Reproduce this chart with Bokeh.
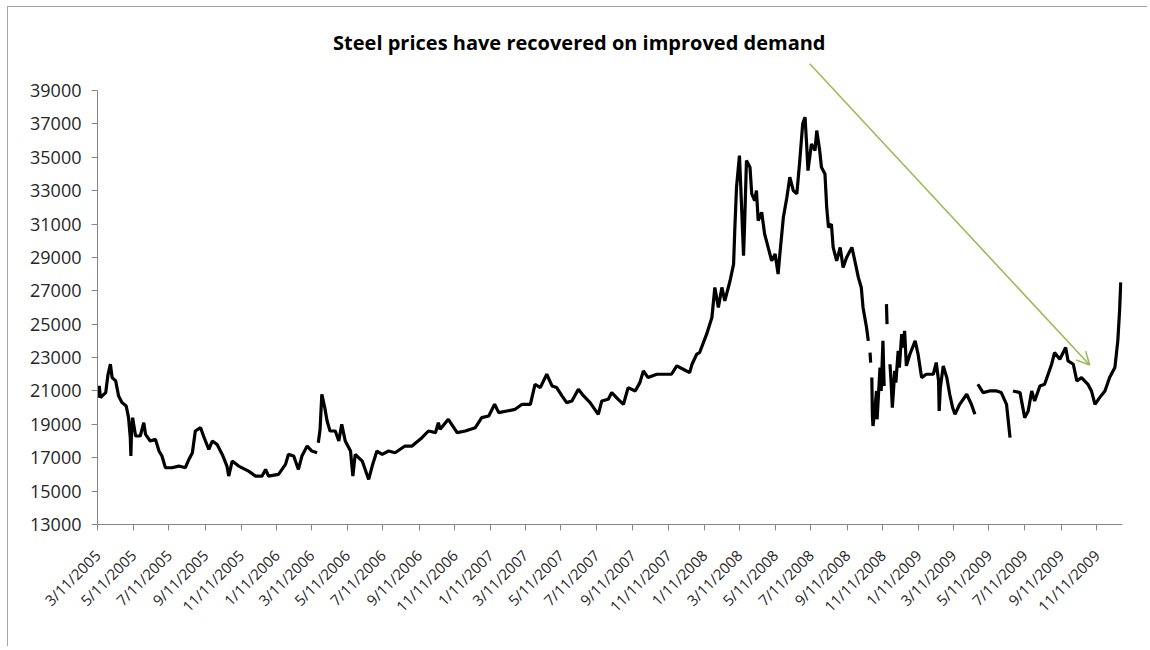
import math
import pandas as pd
from bokeh.plotting import figure
from bokeh.models import (Range1d, FixedTicker, CustomJSTickFormatter, Label,
                          Arrow, OpenHead, ColumnDataSource)
from bokeh.embed import file_html
from bokeh.resources import INLINE

nan = float("nan")

START = "2005-03-11"
END = "2009-12-25"

# days since START
day_offset = [
    0, 3, 5, 8, 14, 18, 22, 25, 31, 36, 42, 49, 53, 56, 57, 58, 60, 65, 73, 79, 82, 90,
    99, 105, 110, 116, 127, 139, 150, 156, 162, 167, 176, 181, 190, 196, 204, 213, 221,
    224, 230, 241, 258, 270, 281, 287, 292,
    309, 321, 326, 335, 343, 349, 358, 366, 375, 376, 377, 380, 383, 388, 392, 397, 406,
    412, 417, 423, 432, 436, 440, 452, 460, 463, 469, 477, 486, 497, 508, 525, 537, 554,
    565, 577, 582,
    585, 599, 614, 628, 645, 656, 668, 678, 685, 699, 713, 725, 739, 747, 756, 767, 776,
    784, 793, 801, 810, 821, 830, 841, 855, 861, 872, 878, 889, 898, 906, 918, 926, 932,
    940, 955, 969, 980, 989, 1000, 1011, 1015, 1023,
    1028, 1040, 1049, 1054, 1060, 1066, 1071, 1080, 1086, 1088, 1091, 1096, 1099, 1103,
    1105, 1108, 1114, 1117, 1122, 1125, 1128, 1134, 1139, 1145, 1151, 1157, 1162, 1165,
    1171, 1177, 1182, 1188, 1194, 1199, 1204, 1208, 1211, 1213, 1219, 1225, 1228, 1233,
    1236, 1242, 1245, 1248, 1253, 1256, 1262, 1268, 1273, 1279, 1288, 1293, 1299, 1304,
    1307, 1313, 1316, 1317, 1319, 1320, 1321, 1322, 1323, 1324, 1327, 1330, 1331, 1336,
    1338, 1341, 1343, 1345, 1347, 1348, 1350, 1353, 1355, 1357, 1359, 1361, 1363, 1367,
    1369, 1373, 1375, 1378, 1381, 1387, 1396, 1401, 1407, 1415, 1427, 1432, 1436, 1437,
    1439, 1444, 1450, 1455, 1460, 1464, 1472, 1484, 1492, 1498, 1500, 1503, 1512, 1523,
    1535, 1543, 1552, 1558, 1560, 1563, 1575, 1583, 1589, 1595, 1600, 1609, 1617, 1623,
    1629, 1634, 1643, 1653, 1657, 1666, 1672, 1680, 1691, 1697, 1703, 1711, 1720, 1728,
    1737, 1742, 1745, 1747,
]

price = [
    20600, 21300, 20600, 20700, 20900, 22000, 22600, 21800, 21600, 20700, 20300, 20100,
    19400, 18200, 17100, 18500, 19400, 18300, 18300, 19100, 18400, 18000,
    18100, 17400, 17100, 16400, 16400, 16500, 16400, 16900, 17300, 18600, 18800, 18300,
    17500, 18000, 17800, 17200, 16500, 15900, 16800, 16500, 16200, 15900, 15900, 16300,
    15900,
    16000, 16600, 17200, 17100, 16300, 17100, 17700, 17400, 17300, nan, 17900, 18700,
    20800, 20000, 19200, 18600, 18600, 18000, 19000, 18000, 17400, 15900, 17200, 16800,
    16000, 15700, 16500, 17400, 17200, 17400, 17300, 17700, 17700, 18200, 18600, 18500,
    19100,
    18700, 19300, 18500, 18600, 18800, 19400, 19500, 20200, 19700, 19800, 19900, 20200,
    20200, 21400, 21200, 22000, 21300, 21200, 20700, 20300, 20400, 21100, 20700, 20300,
    19600, 20400, 20500, 20900, 20500, 20200, 21200, 21000, 21500, 22200, 21800, 22000,
    22000, 22000, 22500, 22300, 22100, 22600, 23200,
    23300, 24400, 25400, 27200, 26000, 27200, 26400, 27600, 28600, 30600, 33200, 35100,
    32600, 29100, 31200, 34800, 34400, 32800, 32400, 33000, 31200, 31700, 30400, 29600,
    28800, 29200, 28000, 29200, 31400, 32600, 33800, 33000, 32800, 34800, 37000, 37400,
    35600, 34200, 35800, 35400, 36600, 35400, 34400, 34000, 32000, 30800, 31000, 29600,
    28800, 29600, 28400, 29000, 29600, 28800, 27800, 27200, 26000, 24800, 24000, nan,
    23300, 22700, nan, 21800, 19500, 18900, 19800, 21000, 19300, 22400, 21000, 24000,
    21300, nan, 26200, 25000, nan, 22600, 21500, 20000, 21000, 22200, 21500, 23400,
    22400, 24400, 23600, 24600, 22500, 23200, 24000, 23200, 21800, 22000, 22000, 22700,
    21600, 19800, 21200, 22500, 21800, 20800, 20000, 19600, 20200, 20800, 20200, 19600,
    nan, 21400, 20900, 21000, 21000, 20900, 20200, 18200, nan, 21000, 20900, 19400,
    19800, 21000, 20400, 21300, 21400, 22000, 22600, 23300, 22900, 23600, 22800, 22600,
    21600, 21800, 21400, 21000, 20200, 20600, 21000, 21800, 22400, 24000, 25800, 27500,
]

tick_dates = [
    "2005-03-11", "2005-05-11", "2005-07-11", "2005-09-11", "2005-11-11",
    "2006-01-11", "2006-03-11", "2006-05-11", "2006-07-11", "2006-09-11", "2006-11-11",
    "2007-01-11", "2007-03-11", "2007-05-11", "2007-07-11", "2007-09-11", "2007-11-11",
    "2008-01-11", "2008-03-11", "2008-05-11", "2008-07-11", "2008-09-11", "2008-11-11",
    "2009-01-11", "2009-03-11", "2009-05-11", "2009-07-11", "2009-09-11", "2009-11-11",
]
Y_MIN, Y_MAX = 13000, 39000
y_ticks = list(range(Y_MIN, Y_MAX + 1, 2000))

TITLE = "Steel  prices have recovered on improved demand"
# annotation anchors (days since START, value)
title_pos = (827, 41850)
arrow_start = (1216, 40600)
arrow_end = (1694, 22550)
Y_TOP = 43190  # headroom above the axis for the title and arrow


def ms(ts):
    return pd.Timestamp(ts).value / 1e6


start_ts = pd.Timestamp(START)
dates = start_ts + pd.to_timedelta(day_offset, unit="D")
src = ColumnDataSource(data=dict(date=dates, price=price))

p = figure(width=1140, height=640, x_axis_type="datetime",
           x_range=Range1d(ms(START), ms(END)), y_range=Range1d(Y_MIN, Y_TOP),
           output_backend="svg", toolbar_location=None,
           min_border_left=89, min_border_right=26, min_border_top=13,
           min_border_bottom=123,
           styles={"margin-left": "7px", "margin-top": "6px",
                   "border-left": "1px solid #a6a6a6", "border-top": "1px solid #a6a6a6"})

p.line(x="date", y="price", source=src, line_color="black", line_width=3.2)

p.xgrid.visible = False
p.ygrid.visible = False
p.outline_line_color = None

for ax in (p.xaxis, p.yaxis):
    ax.axis_line_color = "#868686"
    ax.major_tick_line_color = "#868686"
    ax.minor_tick_line_color = None
    ax.major_tick_out = 6
    ax.major_tick_in = 0
    ax.major_label_text_font = "Open Sans"
    ax.major_label_text_color = "#262626"

p.yaxis.ticker = FixedTicker(ticks=y_ticks)
p.yaxis.bounds = (Y_MIN, Y_MAX)
p.yaxis.major_label_text_font_size = "18px"
p.yaxis.major_label_standoff = 10

p.xaxis.ticker = FixedTicker(ticks=[ms(d) for d in tick_dates])
p.xaxis.formatter = CustomJSTickFormatter(code="""
const d = new Date(tick);
return (d.getUTCMonth() + 1) + "/" + d.getUTCDate() + "/" + d.getUTCFullYear();
""")
p.xaxis.major_label_orientation = math.pi / 4
p.xaxis.major_label_text_font_size = "15px"
p.xaxis.major_label_standoff = 22

t = Label(x=ms(start_ts + pd.Timedelta(days=title_pos[0])), y=title_pos[1], text=TITLE,
          text_font="Open Sans", text_font_style="bold", text_font_size="20px",
          text_align="center", text_baseline="middle", text_color="black")
p.add_layout(t)

arr = Arrow(end=OpenHead(size=13, line_color="#9bbb59", line_width=1.6),
            x_start=ms(start_ts + pd.Timedelta(days=arrow_start[0])), y_start=arrow_start[1],
            x_end=ms(start_ts + pd.Timedelta(days=arrow_end[0])), y_end=arrow_end[1],
            line_color="#9bbb59", line_width=1.6)
p.add_layout(arr)

open("out.html", "w").write(file_html(p, INLINE))
